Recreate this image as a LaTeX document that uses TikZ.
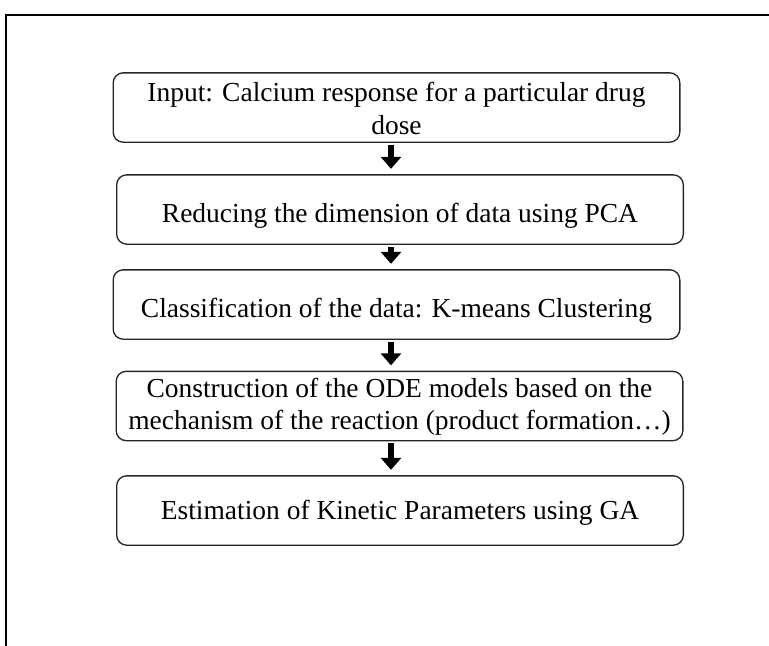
\documentclass[tikz,border=0pt]{standalone}
\usepackage{fontspec}
\setmainfont{Liberation Serif}
\usetikzlibrary{arrows.meta}
\begin{document}
\begin{tikzpicture}[x=0.75pt,y=-0.75pt,
  stage/.style={draw=black!85, line width=1pt, rounded corners=7.5pt,
    minimum width=425pt, minimum height=52pt, inner sep=0pt},
  stagetext/.style={font=\fontsize{20.6}{24.5}\selectfont, align=center, inner sep=0pt},
  flow/.style={line width=4.9pt, black,
    -{Triangle[width=15pt,length=9pt]}, shorten <=1.5pt, shorten >=4pt}
]
% page area and the partial outer frame
\useasboundingbox (0,0) rectangle (769,646);
\draw[line width=1.6pt] (6,646) -- (6,15) -- (769,15);

% process stages
\node[stage] (b1) at (396.5,107.5) {};
\node[stage] (b2) at (400,209.5) {};
\node[stage] (b3) at (396.5,304.5) {};
\node[stage] (b4) at (399.5,406) {};
\node[stage] (b5) at (400,510.5) {};

\node[stagetext] (t1) at ([yshift=-0.8pt]b1.center) {Input: Calcium response for a particular drug\\dose};
\node[stagetext] (t2) at ([yshift=-4.5pt]b2.center) {Reducing the dimension of data using PCA};
\node[stagetext] (t3) at ([yshift=-4.5pt]b3.center) {Classification of the data: K-means Clustering};
\node[stagetext] (t4) at ([yshift=-0.5pt]b4.center) {Construction of the ODE models based on the\\mechanism of the reaction (product formation\ldots)};
\node[stagetext] (t5) at ([yshift=-2pt]b5.center) {Estimation of Kinetic Parameters using GA};

% block arrows between stages
\draw[flow] (b1.south -| 391,0) -- (b2.north -| 391,0);
\draw[flow] (b2.south -| 391,0) -- (b3.north -| 391,0);
\draw[flow] (b3.south -| 391,0) -- (b4.north -| 391,0);
\draw[flow] (b4.south -| 391,0) -- (b5.north -| 391,0);
\end{tikzpicture}
\end{document}
